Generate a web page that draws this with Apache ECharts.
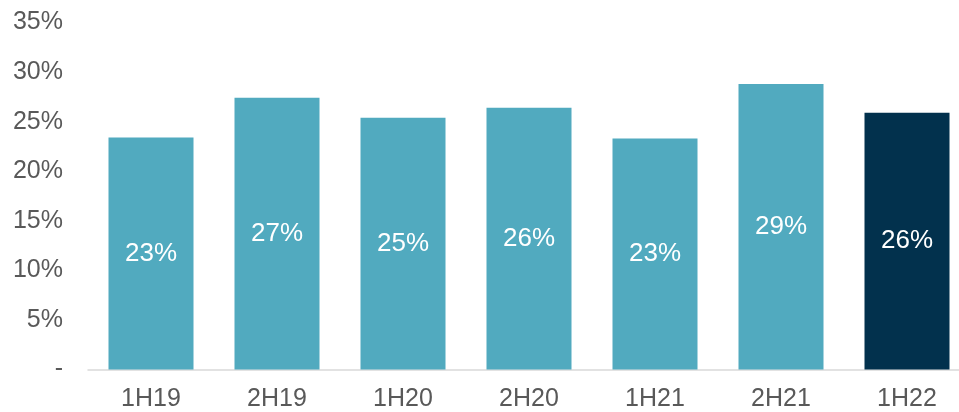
<!DOCTYPE html>
<html>
<head>
<meta charset="utf-8">
<script src="https://cdn.jsdelivr.net/npm/echarts@6/dist/echarts.min.js"></script>
<style>
  html, body { margin: 0; padding: 0; background: #fff; }
  #chart { width: 959px; height: 412px; }
</style>
</head>
<body>
<div id="chart"></div>
<script>
// Half-year periods and their share values (%)
const periods = ['1H19', '2H19', '1H20', '2H20', '1H21', '2H21', '1H22'];
const shares = [23.4, 27.4, 25.4, 26.4, 23.3, 28.8, 25.9];
// The latest period is highlighted in navy
const highlightIndex = 6;

const teal = '#51aabf';
const navy = '#02314d';
const font = '"Liberation Sans", Arial, sans-serif';

const chart = echarts.init(document.getElementById('chart'));
chart.setOption({
  animation: false,
  grid: { left: 88, right: -11, top: 22.5, bottom: 42.5, outerBoundsMode: 'none', containLabel: false },
  xAxis: {
    type: 'category',
    data: periods,
    axisLine: { lineStyle: { color: '#d9d9d9', width: 1.5 } },
    axisTick: { show: false },
    axisLabel: { color: '#595959', fontSize: 25, fontFamily: font, margin: 17 }
  },
  yAxis: {
    type: 'value',
    min: 0,
    max: 35,
    interval: 5,
    splitLine: { show: false },
    axisLine: { show: false },
    axisTick: { show: false },
    axisLabel: {
      color: '#595959',
      fontSize: 25,
      fontFamily: font,
      margin: 25,
      formatter: v => (v === 0 ? '-' : v + '%')
    }
  },
  series: [{
    type: 'bar',
    barWidth: 85,
    data: shares.map((v, i) => ({
      value: v,
      itemStyle: { color: i === highlightIndex ? navy : teal }
    })),
    label: {
      show: true,
      position: 'inside',
      color: '#ffffff',
      fontSize: 26,
      fontFamily: font,
      formatter: p => Math.round(p.value) + '%'
    }
  }]
});
</script>
</body>
</html>
